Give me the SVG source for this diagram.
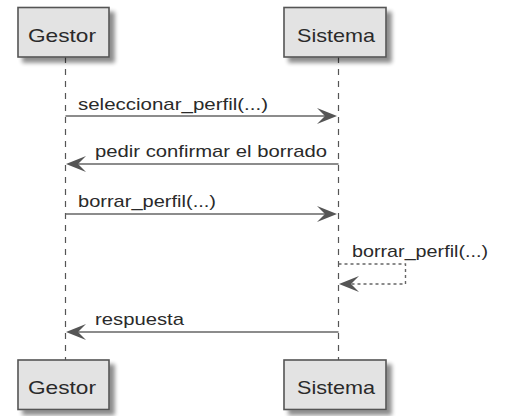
<svg xmlns="http://www.w3.org/2000/svg" width="506" height="416" viewBox="0 0 506 416">
<defs>
<filter id="sh" x="-20%" y="-20%" width="150%" height="160%">
<feGaussianBlur in="SourceAlpha" stdDeviation="2"/>
<feOffset dx="5" dy="5" result="b"/>
<feComponentTransfer><feFuncA type="linear" slope="0.45"/></feComponentTransfer>
<feMerge><feMergeNode/><feMergeNode in="SourceGraphic"/></feMerge>
</filter>
</defs>
<style>
.box{fill:#E3E3E3;stroke:#555;stroke-width:1.6}
.pt{font-family:"Liberation Sans",Arial,sans-serif;font-size:19px;fill:#2a2a2a;font-variant-ligatures:none}
.mt{font-family:"Liberation Sans",Arial,sans-serif;font-size:17px;fill:#2a2a2a;font-variant-ligatures:none}
.life{stroke:#555;stroke-width:1.2;stroke-dasharray:6,6;fill:none}
.msg{stroke:#666;stroke-width:1.6;fill:none}
.dash{stroke:#666;stroke-width:1.4;fill:none;stroke-dasharray:3,3}
.ah{fill:#555}
</style>
<g id="lifelines">
<line class="life" x1="65.5" y1="57" x2="65.5" y2="360"/>
<line class="life" x1="338.5" y1="57" x2="338.5" y2="360"/>
</g>
<g id="gestor-top">
<rect class="box" x="18" y="7.5" width="91" height="49.5" filter="url(#sh)"/>
<text class="pt" x="28" y="41.5" textLength="68" lengthAdjust="spacingAndGlyphs">Gestor</text>
</g>
<g id="sistema-top">
<rect class="box" x="284" y="7.5" width="102" height="49.5" filter="url(#sh)"/>
<text class="pt" x="297" y="41.5" textLength="78" lengthAdjust="spacingAndGlyphs">Sistema</text>
</g>
<g id="gestor-bottom">
<rect class="box" x="18" y="360" width="91" height="49.5" filter="url(#sh)"/>
<text class="pt" x="28" y="394" textLength="68" lengthAdjust="spacingAndGlyphs">Gestor</text>
</g>
<g id="sistema-bottom">
<rect class="box" x="284" y="360" width="102" height="49.5" filter="url(#sh)"/>
<text class="pt" x="297" y="394" textLength="78" lengthAdjust="spacingAndGlyphs">Sistema</text>
</g>
<g id="connectors">
<line class="msg" x1="65.5" y1="116" x2="334" y2="116"/>
<polygon class="ah" points="317,108 337,116 317,124 325,116"/>
<text class="mt" x="78" y="110" textLength="190" lengthAdjust="spacingAndGlyphs">seleccionar_perfil(...)</text>

<line class="msg" x1="338.5" y1="164" x2="70" y2="164"/>
<polygon class="ah" points="86,156 66,164 86,172 78,164"/>
<text class="mt" x="95" y="157" textLength="232" lengthAdjust="spacingAndGlyphs">pedir confirmar el borrado</text>

<line class="msg" x1="65.5" y1="214" x2="334" y2="214"/>
<polygon class="ah" points="317,206 337,214 317,222 325,214"/>
<text class="mt" x="78" y="207" textLength="138" lengthAdjust="spacingAndGlyphs">borrar_perfil(...)</text>

<polyline class="dash" points="338.5,264 405.5,264 405.5,284 343,284"/>
<polygon class="ah" points="359,276 339,284 359,292 351,284"/>
<text class="mt" x="352" y="257" textLength="136" lengthAdjust="spacingAndGlyphs">borrar_perfil(...)</text>

<line class="msg" x1="338.5" y1="332" x2="70" y2="332"/>
<polygon class="ah" points="86,324 66,332 86,340 78,332"/>
<text class="mt" x="95" y="325" textLength="89" lengthAdjust="spacingAndGlyphs">respuesta</text>
</g>
</svg>
